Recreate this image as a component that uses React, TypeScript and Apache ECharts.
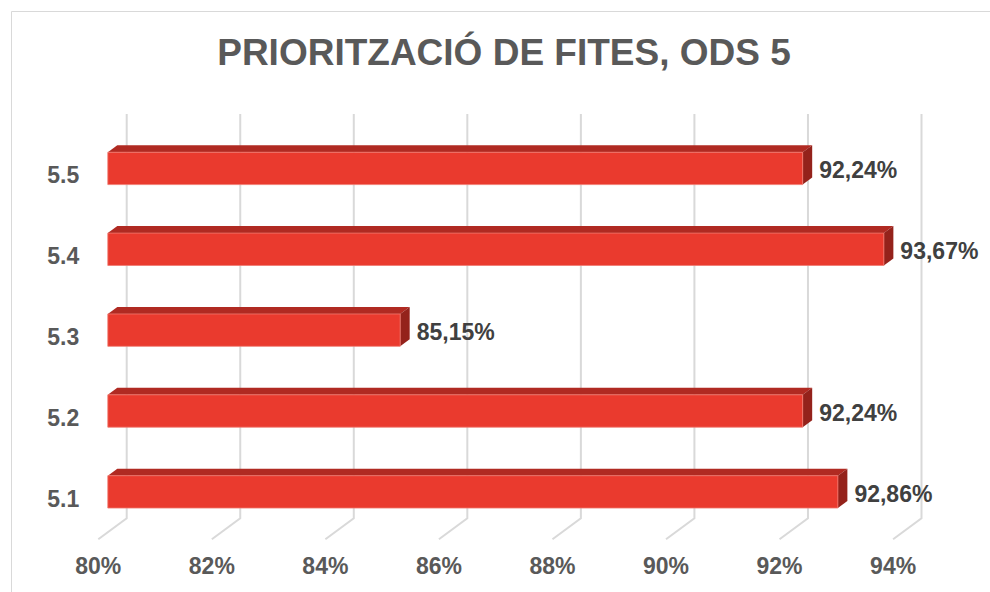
import React, { useEffect, useRef } from "react";
import * as echarts from "echarts";

const categories = ["5.1", "5.2", "5.3", "5.4", "5.5"];
const values = [92.86, 92.24, 85.15, 93.67, 92.24];
const xMin = 80;
const xMax = 94;
const xInterval = 2;
const xTicks = [80, 82, 84, 86, 88, 90, 92, 94];
const titleText = "PRIORITZACIÓ DE FITES, ODS 5";

const FONT = '"Liberation Sans", Arial, Helvetica, sans-serif';
// depth offsets relative to the bar-front plane
const BACK_DX = 18.9;
const BACK_DY = -14;
const FRONT_DX = -9.5;
const FRONT_DY = 7;
const BAR_DX = 9.5;
const BAR_DY = -7;

export default function App() {
  const ref = useRef<HTMLDivElement>(null);
  useEffect(() => {
    if (!ref.current) return;
    const chart = echarts.init(ref.current, null, { renderer: "svg" });
    const fmt = (v: number) => v.toFixed(2).replace(".", ",") + "%";
    const option: any = {
      animation: false,
      backgroundColor: "#ffffff",
      graphic: [
        {
          type: "rect",
          shape: { x: 11.5, y: 11.5, width: 1000, height: 700 },
          style: { fill: "none", stroke: "#d9d9d9", lineWidth: 1 },
          silent: true,
          z: -10,
        },
        {
          type: "text",
          x: 504,
          y: 52,
          style: {
            text: titleText,
            fill: "#595959",
            font: `bold 37px ${FONT}`,
            align: "center",
            verticalAlign: "middle",
          },
        },
      ],
      grid: [
        { left: 107.8, top: 128, width: 794.8, height: 404.3, outerBoundsMode: "none", containLabel: false },
        { left: 98.3, top: 135, width: 794.8, height: 404.3, outerBoundsMode: "none", containLabel: false },
      ],
      xAxis: [
        {
          gridIndex: 0,
          type: "value",
          min: xMin,
          max: xMax,
          interval: xInterval,
          show: false,
        },
        {
          gridIndex: 1,
          type: "value",
          min: xMin,
          max: xMax,
          interval: xInterval,
          axisLine: { show: false },
          axisTick: { show: false },
          splitLine: { show: false },
          axisLabel: {
            formatter: "{value}%",
            fontSize: 23,
            fontWeight: "bold",
            fontFamily: FONT,
            color: "#595959",
            margin: 15,
          },
        },
      ],
      yAxis: [
        {
          gridIndex: 0,
          type: "category",
          data: categories,
          show: false,
        },
        {
          gridIndex: 1,
          type: "category",
          data: categories,
          axisLine: { show: false },
          axisTick: { show: false },
          splitLine: { show: false },
          axisLabel: {
            fontSize: 23,
            fontWeight: "bold",
            fontFamily: FONT,
            color: "#595959",
            margin: 19,
          },
        },
      ],
      series: [
        {
          type: "custom",
          name: "grid",
          xAxisIndex: 0,
          yAxisIndex: 0,
          z: 1,
          silent: true,
          data: xTicks.map((t) => [t, 0]),
          encode: { x: 0, y: 1 },
          renderItem: (params: any, api: any) => {
            const cs = params.coordSys;
            const x = api.coord([api.value(0), 0])[0];
            const top = cs.y;
            const bottom = cs.y + cs.height;
            return {
              type: "polyline",
              shape: {
                points: [
                  [x + BACK_DX, top + BACK_DY],
                  [x + BACK_DX, bottom + BACK_DY],
                  [x + FRONT_DX, bottom + FRONT_DY],
                ],
              },
              style: { stroke: "#d9d9d9", lineWidth: 2, fill: "none" },
            };
          },
        },
        {
          type: "custom",
          name: "bars",
          xAxisIndex: 0,
          yAxisIndex: 0,
          z: 5,
          data: values.map((v, i) => [v, i]),
          encode: { x: 0, y: 1 },
          renderItem: (params: any, api: any) => {
            const val = api.value(0);
            const cat = api.value(1);
            const s = api.coord([xMin, cat]);
            const e = api.coord([val, cat]);
            const band = api.size([0, 1])[1];
            const h = band * 0.4;
            const x0 = s[0];
            const x1 = e[0];
            const yT = e[1] - h / 2;
            const yB = e[1] + h / 2;
            return {
              type: "group",
              children: [
                {
                  type: "polygon",
                  shape: {
                    points: [
                      [x0, yT],
                      [x0 + BAR_DX, yT + BAR_DY],
                      [x1 + BAR_DX, yT + BAR_DY],
                      [x1, yT],
                    ],
                  },
                  style: { fill: "#b02a22" },
                },
                {
                  type: "polygon",
                  shape: {
                    points: [
                      [x1, yT],
                      [x1 + BAR_DX, yT + BAR_DY],
                      [x1 + BAR_DX, yB + BAR_DY],
                      [x1, yB],
                    ],
                  },
                  style: { fill: "#94221b" },
                },
                {
                  type: "rect",
                  shape: { x: x0, y: yT, width: x1 - x0, height: h },
                  style: { fill: "#ea3a2e", stroke: "#f07a70", lineWidth: 0.8 },
                },
                {
                  type: "text",
                  x: x1 + BAR_DX + 7,
                  y: e[1] + 2,
                  style: {
                    text: fmt(val),
                    fill: "#404040",
                    font: `bold 23px ${FONT}`,
                    align: "left",
                    verticalAlign: "middle",
                  },
                },
              ],
            };
          },
        },
      ],
    };
    chart.setOption(option);
    return () => chart.dispose();
  }, []);
  return (
    <div
      ref={ref}
      style={{ position: "fixed", left: 0, top: 0, width: 990, height: 592 }}
    />
  );
}
